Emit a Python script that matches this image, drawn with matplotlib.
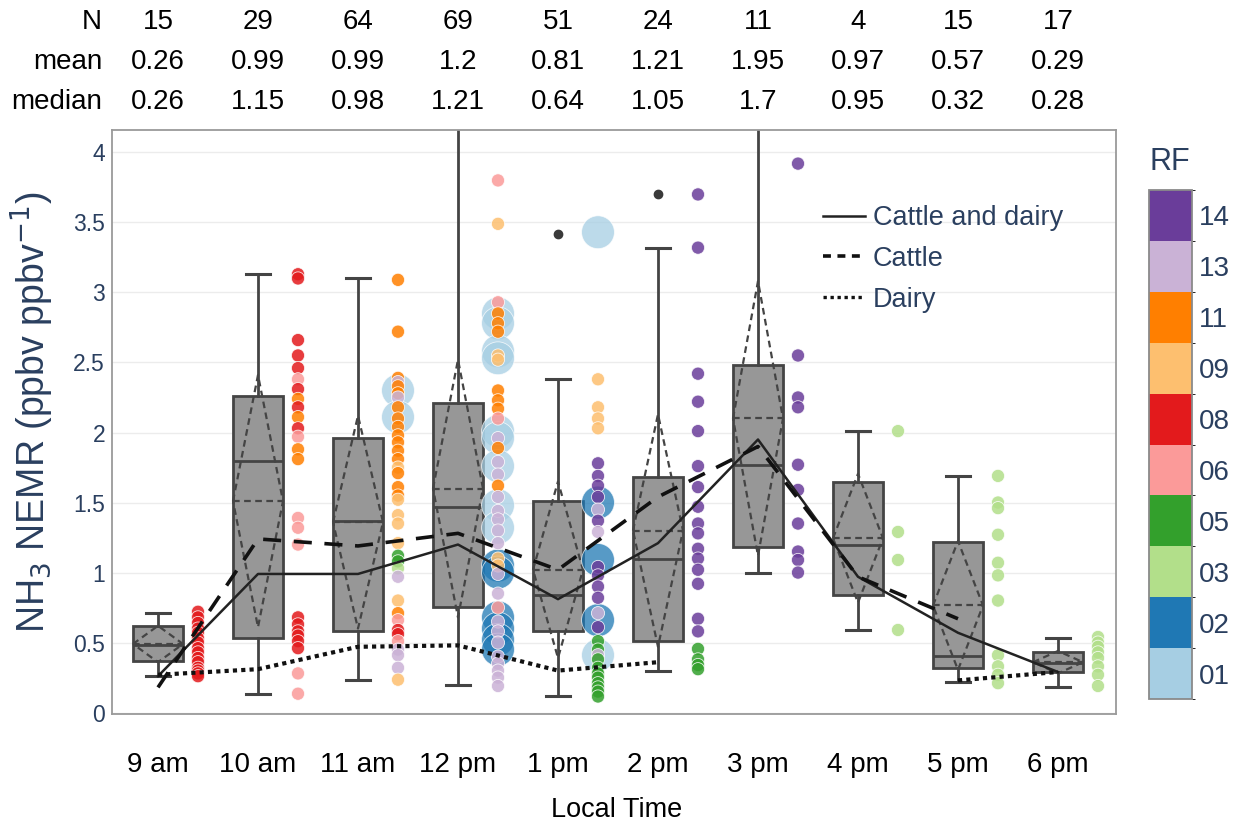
import numpy as np
import matplotlib
matplotlib.use("Agg")
import matplotlib.pyplot as plt
from matplotlib.colors import ListedColormap, BoundaryNorm
from matplotlib.colorbar import ColorbarBase
from matplotlib.lines import Line2D
from matplotlib.transforms import blended_transform_factory

plt.rcParams['font.family'] = ['Liberation Sans', 'DejaVu Sans']

# ---------------- data ----------------
hours = ["9 am", "10 am", "11 am", "12 pm", "1 pm", "2 pm", "3 pm", "4 pm", "5 pm", "6 pm"]
n_obs = [15, 29, 64, 69, 51, 24, 11, 4, 15, 17]
mean_all = [0.26, 0.99, 0.99, 1.2, 0.81, 1.21, 1.95, 0.97, 0.57, 0.29]
median_all = [0.26, 1.15, 0.98, 1.21, 0.64, 1.05, 1.7, 0.95, 0.32, 0.28]
cattle_mean = [0.18, 1.24, 1.19, 1.28, 1.02, 1.54, 1.90, 0.97, 0.67, np.nan]
dairy_mean = [0.27, 0.31, 0.47, 0.48, 0.30, 0.36, np.nan, np.nan, 0.23, 0.29]

box_q1 = [0.37, 0.53, 0.58, 0.755, 0.58, 0.51, 1.18, 0.84, 0.32, 0.29]
box_med = [0.48, 1.80, 1.37, 1.47, 0.84, 1.10, 1.77, 1.195, 0.405, 0.355]
box_q3 = [0.615, 2.26, 1.96, 2.21, 1.51, 1.68, 2.48, 1.65, 1.22, 0.43]
box_lo = [0.26, 0.135, 0.235, 0.20, 0.115, 0.30, 0.995, 0.59, 0.215, 0.18]
box_hi = [0.71, 3.13, 3.10, 5.0, 2.38, 3.32, 5.0, 2.01, 1.69, 0.53]
box_mean = [0.49, 1.51, 1.36, 1.60, 1.02, 1.30, 2.10, 1.245, 0.765, 0.36]
box_sd = [0.13, 0.90, 0.76, 0.92, 0.63, 0.83, 0.98, 0.46, 0.46, 0.08]
box_outliers = [[], [], [], [], [3.42], [3.70], [], [], [], []]

rf_labels = ['01', '02', '03', '05', '06', '08', '09', '11', '13', '14']
rf_colors = ['#a6cee3', '#1f78b4', '#b2df8a', '#33a02c', '#fb9a99',
             '#e31a1c', '#fdbf6f', '#ff7f00', '#cab2d6', '#6a3d9a']

scatter_vals = [
    [0.72, 0.68, 0.64, 0.60, 0.57, 0.53, 0.50, 0.46, 0.43, 0.39, 0.36, 0.32, 0.30, 0.28, 0.26],
    [3.13, 3.10, 2.66, 2.55, 2.46, 2.38, 2.31, 2.24, 2.18, 2.11, 2.03, 1.97, 1.88, 1.81,
     1.39, 1.32, 1.20, 0.68, 0.63, 0.58, 0.55, 0.51, 0.46, 0.28, 0.135],
    [2.30, 2.11,
     3.09, 2.72, 2.39, 2.36, 2.33, 2.28, 2.25, 2.18, 2.10, 2.04, 1.98, 1.93, 1.87, 1.81, 1.75,
     1.71, 1.61, 1.55, 1.52, 1.41, 1.35, 1.21, 1.12, 1.08, 1.03, 0.97, 0.80, 0.71, 0.66,
     0.59, 0.56, 0.51, 0.45, 0.41, 0.32, 0.235],
    [2.85, 2.78, 2.58, 2.53, 2.01, 1.96, 1.76, 1.48, 1.32, 1.05, 1.00, 0.68, 0.60, 0.52, 0.45,
     3.80, 3.49, 2.93, 2.85, 2.78, 2.72, 2.55, 2.52, 2.30, 2.23, 2.17, 2.10, 1.96, 1.89,
     1.79, 1.70, 1.62, 1.54, 1.44, 1.38, 1.30, 1.21, 1.10, 1.05, 0.99, 0.85, 0.75, 0.65,
     0.58, 0.50, 0.40, 0.35, 0.30, 0.25, 0.19],
    [3.43, 0.41, 1.50, 1.09, 0.66,
     2.38, 2.18, 2.10, 2.03, 1.78, 1.69, 1.62, 1.54, 1.45, 1.37, 1.29, 1.04, 0.98, 0.90,
     0.82, 0.71, 0.61, 0.51, 0.45, 0.41, 0.38, 0.32, 0.28, 0.25, 0.21, 0.18, 0.15, 0.115],
    [3.70, 3.32, 2.42, 2.22, 2.01, 1.76, 1.61, 1.47, 1.35, 1.28, 1.17, 1.10, 1.02, 0.92,
     0.67, 0.58, 0.455, 0.38, 0.34, 0.31],
    [3.92, 2.55, 2.25, 2.18, 1.77, 1.59, 1.35, 1.15, 1.09, 1.00],
    [2.01, 1.29, 1.09, 0.59],
    [1.69, 1.50, 1.46, 1.27, 1.07, 0.98, 0.80, 0.41, 0.33, 0.27, 0.21],
    [0.54, 0.50, 0.47, 0.43, 0.39, 0.33, 0.27, 0.19],
]
scatter_rf = [
    ['08'] * 15,
    ['08', '08', '08', '08', '08', '06', '08', '11', '08', '11', '08', '06', '11', '11',
     '06', '06', '06', '08', '08', '08', '08', '08', '08', '06', '06'],
    ['01', '01',
     '11', '11', '11', '13', '11', '11', '13', '11', '11', '11', '11', '11', '11', '11', '09',
     '11', '11', '11', '09', '09', '09', '09', '05', '05', '03', '13', '09', '11', '06',
     '08', '08', '06', '13', '13', '13', '09'],
    ['01', '01', '01', '01', '01', '01', '01', '01', '01', '02', '02', '02', '02', '02', '02',
     '06', '09', '06', '11', '11', '11', '09', '09', '11', '11', '11', '06', '13', '11',
     '13', '13', '11', '13', '13', '13', '13', '13', '09', '09', '13', '13', '06', '13',
     '13', '13', '13', '13', '13', '13', '13'],
    ['01', '01', '02', '02', '02',
     '09', '09', '09', '09', '14', '14', '14', '14', '13', '14', '13', '14', '14', '14',
     '14', '13', '14', '05', '05', '13', '05', '05', '05', '05', '05', '05', '05', '05'],
    ['14'] * 16 + ['05'] * 4,
    ['14'] * 10,
    ['03'] * 4,
    ['03'] * 11,
    ['03'] * 8,
]

# ---------------- figure ----------------
W, H = 1244, 826
fig = plt.figure(figsize=(W / 100, H / 100), dpi=100)
ax = fig.add_axes([112 / W, 1 - 714 / H, (1116 - 112) / W, (714 - 130) / H])

x = np.arange(len(hours))
dark = '#444444'
txtblue = '#2a3f5f'

stats = []
for i in range(len(hours)):
    stats.append(dict(med=box_med[i], q1=box_q1[i], q3=box_q3[i],
                      whislo=box_lo[i], whishi=box_hi[i],
                      fliers=np.array(box_outliers[i])))
ax.bxp(stats, positions=x, widths=0.5, capwidths=0.24, patch_artist=True,
       showfliers=True, manage_ticks=False,
       boxprops=dict(facecolor='#979797', edgecolor=dark, linewidth=2),
       medianprops=dict(color=dark, linewidth=2),
       whiskerprops=dict(color=dark, linewidth=2),
       capprops=dict(color=dark, linewidth=2.2),
       flierprops=dict(marker='o', markerfacecolor='#3a3a3a', markeredgecolor='#3a3a3a',
                       markersize=6))

for i in range(len(hours)):
    m, sd, p = box_mean[i], box_sd[i], x[i]
    ax.plot([p - 0.25, p + 0.25], [m, m], ls=(0, (3, 2)), color=dark, lw=1.6, zorder=3)
    ax.plot([p - 0.25, p, p + 0.25, p, p - 0.25], [m, m + sd, m, m - sd, m],
            ls=(0, (3, 2)), color=dark, lw=1.6, zorder=3)

# scatter of individual points
cmap_dict = dict(zip(rf_labels, rf_colors))
for i in range(len(hours)):
    vals = np.array(scatter_vals[i])
    rfs = np.array(scatter_rf[i])
    big = np.isin(rfs, ['01', '02'])
    cols = [cmap_dict[r] for r in rfs]
    xs = np.full(len(vals), x[i] + 0.4)
    if big.any():
        ax.scatter(xs[big], vals[big], s=560, c=[c for c, b in zip(cols, big) if b],
                   alpha=0.75, edgecolors='white', linewidths=0.6, zorder=3.2)
    ax.scatter(xs[~big], vals[~big], s=90, c=[c for c, b in zip(cols, big) if not b],
               alpha=0.85, edgecolors='white', linewidths=0.6, zorder=3.4)

# mean lines
l1, = ax.plot(x, mean_all, color='#222222', lw=1.8, zorder=5)
l2, = ax.plot(x, cattle_mean, color='#111111', lw=2.6, ls=(0, (5, 3.5)), zorder=5)
l3, = ax.plot(x, dairy_mean, color='#111111', lw=3.0, ls=(0, (1, 1)), zorder=5)

ax.set_xlim(-0.46, 9.58)
ax.set_ylim(-0.01, 4.16)
ax.set_yticks(np.arange(0, 4.01, 0.5))
ax.set_yticklabels(['0', '0.5', '1', '1.5', '2', '2.5', '3', '3.5', '4'])
ax.set_xticks(x)
ax.set_xticklabels(hours)
ax.tick_params(axis='x', length=0, pad=27, labelsize=20, labelcolor='black')
ax.tick_params(axis='y', length=0, pad=5, labelsize=16.5, labelcolor=txtblue)
ax.yaxis.grid(True, color='#ececec', lw=1)
ax.set_axisbelow(True)
for s in ax.spines.values():
    s.set_color('#9a9a9a')
    s.set_linewidth(1.3)

fig.text(617 / W, 1 - 810 / H, 'Local Time', ha='center', va='center', fontsize=19.5)
fig.text(32 / W, 1 - 412 / H, r'NH$_3$ NEMR (ppbv ppbv$^{-1}$)', rotation=90,
         ha='center', va='center', fontsize=27, color=txtblue)

# table on top
tr = blended_transform_factory(ax.transData, fig.transFigure)
rows = [('N', n_obs, 22), ('mean', mean_all, 62), ('median', median_all, 102)]
for name, vals, yp in rows:
    fig.text(102 / W, 1 - yp / H, name, ha='right', va='center', fontsize=20)
    for i, v in enumerate(vals):
        ax.text(x[i], 1 - yp / H, f'{v:g}', transform=tr, ha='center', va='center',
                fontsize=20, clip_on=False)

# legend
handles = [Line2D([], [], color='#222222', lw=1.8),
           Line2D([], [], color='#111111', lw=2.6, ls=(0, (2.2, 1.8))),
           Line2D([], [], color='#111111', lw=2.4, ls=(0, (1, 1.1)))]
ax.legend(handles, ['Cattle and dairy', 'Cattle', 'Dairy'], loc='upper left',
          bbox_to_anchor=(823 / W, 1 - 205 / H), bbox_transform=fig.transFigure,
          frameon=False, fontsize=19.5, handlelength=1.55, handletextpad=0.3,
          labelspacing=0.55, borderaxespad=0, borderpad=0, labelcolor=txtblue)

# colorbar
cax = fig.add_axes([1149 / W, 1 - 699 / H, 43 / W, 509 / H])
cmap = ListedColormap(rf_colors)
norm = BoundaryNorm(np.arange(len(rf_labels) + 1), len(rf_labels))
cb = ColorbarBase(cax, cmap=cmap, norm=norm, orientation='vertical')
cb.set_ticks(np.arange(len(rf_labels)) + 0.5)
cb.set_ticklabels(rf_labels)
cax.tick_params(length=0, pad=5, labelsize=20, labelcolor=txtblue)
cb.outline.set_edgecolor('#8a8a8a')
cb.outline.set_linewidth(1.3)
fig.text(1170 / W, 1 - 162 / H, 'RF', ha='center', va='center', fontsize=22, color=txtblue)

fig.savefig('out.png', dpi=100)
